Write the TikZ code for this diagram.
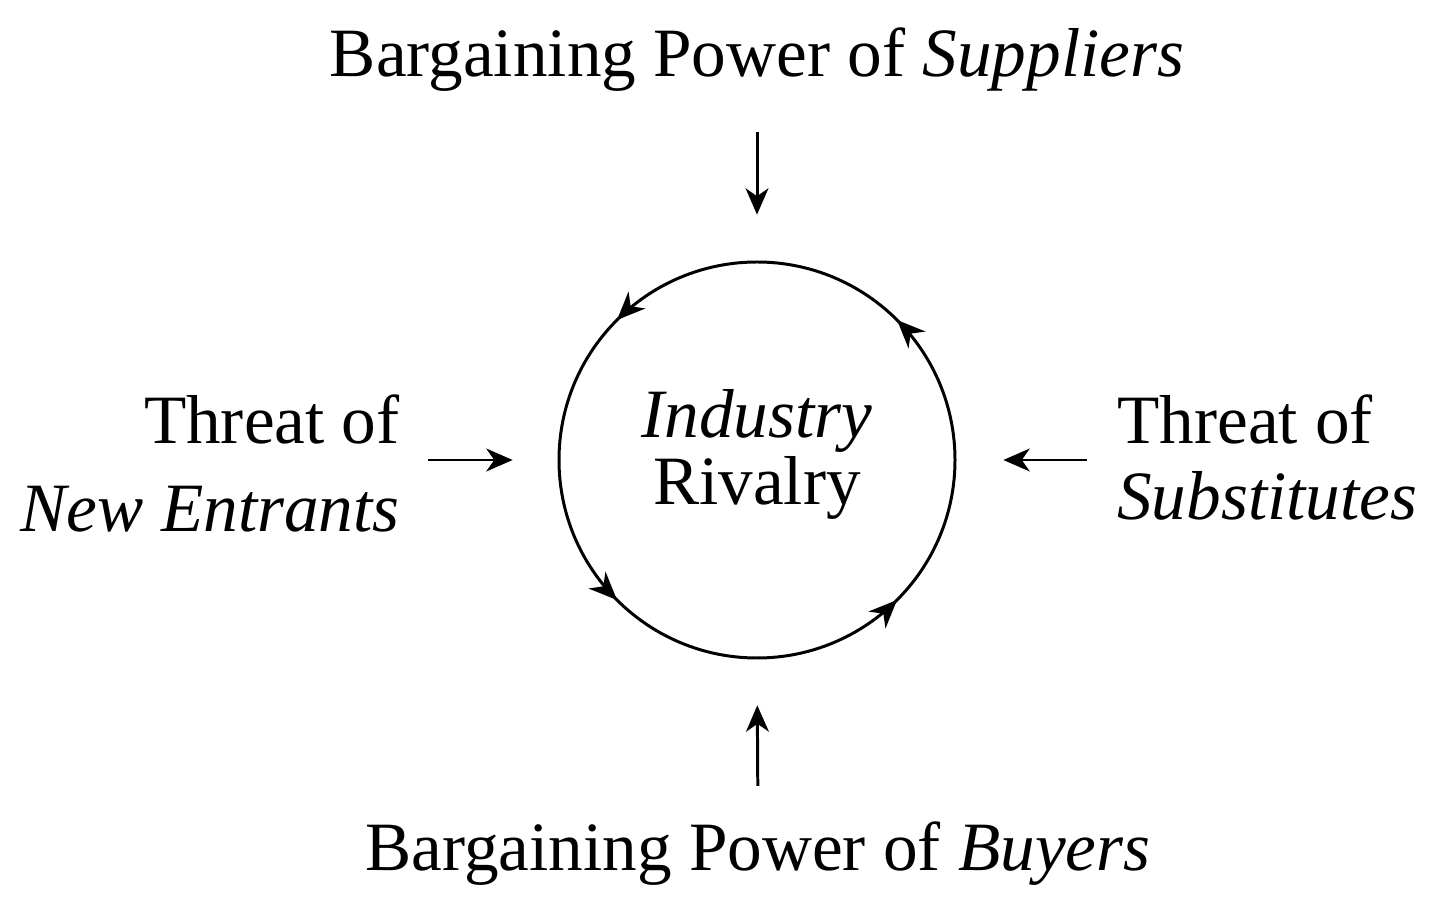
\documentclass[tikz,border=0pt]{standalone}
\usepackage{fontspec}
\setmainfont{Liberation Serif}
\usetikzlibrary{arrows.meta,positioning,decorations.markings}

\begin{document}
\begin{tikzpicture}[
    x=0.02cm, y=0.02cm,
    label/.style={inner sep=0pt, font=\fontsize{39.4}{43.8}\selectfont},
    force/.style={draw, line width=1.7pt, -{Stealth[length=15pt, width=13pt, inset=4.5pt]}},
    ring/.style={circle, minimum size=396*0.02cm, inner sep=0pt},
    cycle/.style={draw, line width=1.7pt, postaction={decorate},
        decoration={markings,
            mark=at position 0.125 with {\arrow{Stealth[length=16pt, width=13.5pt, inset=5pt]}},
            mark=at position 0.375 with {\arrow{Stealth[length=16pt, width=13.5pt, inset=5pt]}},
            mark=at position 0.625 with {\arrow{Stealth[length=16pt, width=13.5pt, inset=5pt]}},
            mark=at position 0.875 with {\arrow{Stealth[length=16pt, width=13.5pt, inset=5pt]}}}}
]
    \fill[white] (0,0) rectangle (1456,923);
    \useasboundingbox (0,0) rectangle (1456,923);

    % the five forces
    \node[label, anchor=base] (suppliers) at (757,846) {Bargaining Power of \textit{Suppliers}};
    \node[label, anchor=base] (buyers) at (758,53) {Bargaining Power of \textit{Buyers}};
    \node[label, align=right, anchor=base east] (entrants) at (400,391) {Threat of\\[6.3pt]\textit{New Entrants}};
    \node[label, align=left, anchor=base west] (substitutes) at (1117,403) {Threat of\\\textit{Substitutes}};

    % rivalry in the middle
    \node[ring] (ring) at (757,463) {};
    \draw[cycle] (ring.center) circle[radius=198];
    \node[label, align=center, anchor=base] (rivalry) at (757,418) {\textit{Industry}\\[-5.1pt]Rivalry};

    % pressure on the industry
    \draw[force, shorten <=0.8cm, shorten >=0.94cm] (suppliers.south) -- (ring.north);
    \draw[force, shorten <=0.7cm, shorten >=0.94cm] (buyers.north) -- (ring.south);
    \draw[force, shorten <=0.56cm, shorten >=0.92cm] (entrants.east |- ring.center) -- (ring.west);
    \draw[force, shorten <=0.6cm, shorten >=0.96cm] (substitutes.west |- ring.center) -- (ring.east);
\end{tikzpicture}
\end{document}
